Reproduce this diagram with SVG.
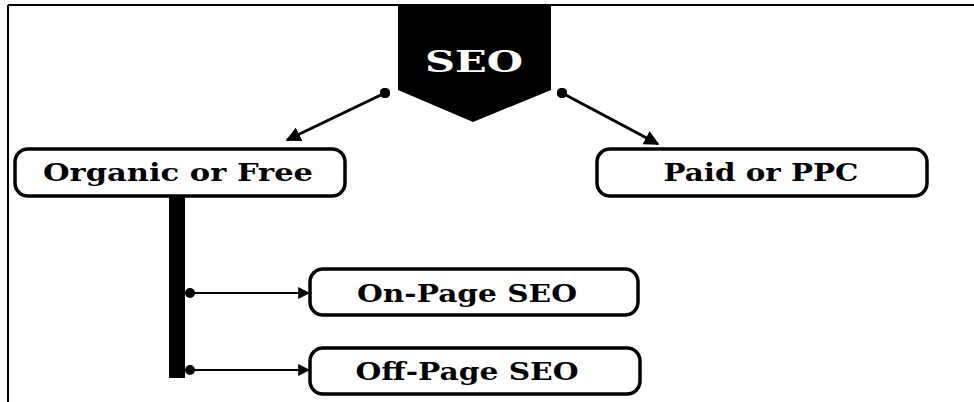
<svg xmlns="http://www.w3.org/2000/svg" width="974" height="402" viewBox="0 0 974 402">
<style>
.box{fill:#fff;stroke:#000;stroke-width:3.5}
.lbl{font-family:"DejaVu Serif","Liberation Serif",serif;font-weight:bold;font-size:25px;fill:#000;text-anchor:middle}
.con{stroke:#000;fill:none}
</style>
<defs>
<marker id="ah" viewBox="0 0 10 10" refX="9" refY="5" markerWidth="5" markerHeight="5" markerUnits="strokeWidth" orient="auto">
<path d="M0,0 L10,5 L0,10 Z" fill="#000"/>
</marker>
<marker id="ah2" viewBox="0 0 10 10" refX="9" refY="5" markerWidth="6" markerHeight="6" markerUnits="strokeWidth" orient="auto">
<path d="M0,0 L10,5 L0,10 Z" fill="#000"/>
</marker>
<marker id="dot" viewBox="0 0 10 10" refX="5" refY="5" markerWidth="3.5" markerHeight="3.5" markerUnits="strokeWidth">
<circle cx="5" cy="5" r="5" fill="#000"/>
</marker>
<marker id="dot2" viewBox="0 0 10 10" refX="5" refY="5" markerWidth="5" markerHeight="5" markerUnits="strokeWidth">
<circle cx="5" cy="5" r="5" fill="#000"/>
</marker>
</defs>
<rect width="974" height="402" fill="#fff"/>
<g id="frame">
<line x1="8" y1="5" x2="974" y2="5" stroke="#000" stroke-width="2"/>
<line x1="8" y1="5" x2="8" y2="402" stroke="#000" stroke-width="2"/>
</g>
<g id="connectors">
<line class="con" x1="385" y1="93" x2="287" y2="140" stroke-width="3" marker-start="url(#dot)" marker-end="url(#ah)"/>
<line class="con" x1="562" y1="93" x2="658" y2="144" stroke-width="3" marker-start="url(#dot)" marker-end="url(#ah)"/>
<rect x="169" y="197" width="16" height="181" fill="#000"/>
<line class="con" x1="190" y1="293" x2="309" y2="293" stroke-width="2" marker-start="url(#dot2)" marker-end="url(#ah2)"/>
<line class="con" x1="190" y1="370" x2="309" y2="370" stroke-width="2" marker-start="url(#dot2)" marker-end="url(#ah2)"/>
</g>
<g id="seo">
<polygon points="398,5 551,5 551,90 473,122 398,90" fill="#000"/>
<text x="474" y="72" class="lbl" style="fill:#fff;font-size:30px" textLength="98" lengthAdjust="spacingAndGlyphs">SEO</text>
</g>
<g id="organic">
<rect class="box" x="15" y="149" width="330" height="47" rx="13"/>
<text x="178" y="181" class="lbl" textLength="270" lengthAdjust="spacingAndGlyphs">Organic or Free</text>
</g>
<g id="paid">
<rect class="box" x="597" y="149" width="330" height="47" rx="13"/>
<text x="761" y="181" class="lbl" textLength="195" lengthAdjust="spacingAndGlyphs">Paid or PPC</text>
</g>
<g id="onpage">
<rect class="box" x="310" y="269" width="328" height="46" rx="13"/>
<text x="467" y="302" class="lbl" textLength="220" lengthAdjust="spacingAndGlyphs">On-Page SEO</text>
</g>
<g id="offpage">
<rect class="box" x="310" y="348" width="330" height="46" rx="13"/>
<text x="467" y="380" class="lbl" textLength="223" lengthAdjust="spacingAndGlyphs">Off-Page SEO</text>
</g>
</svg>
